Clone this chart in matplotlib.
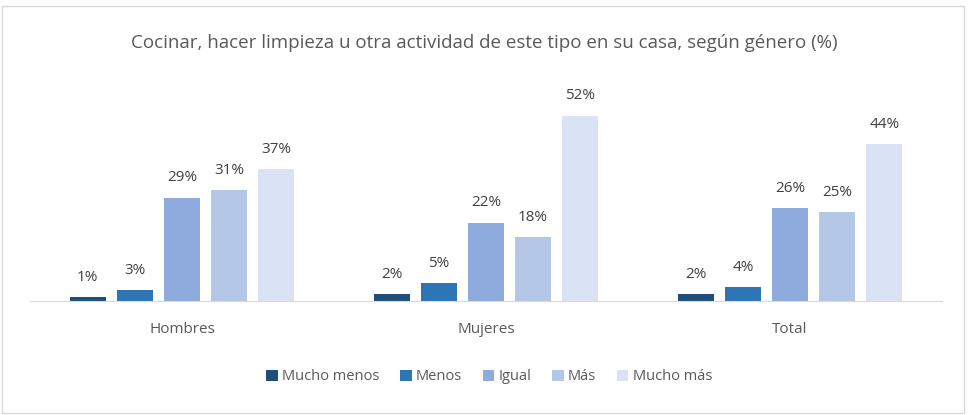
import matplotlib.pyplot as plt
import numpy as np
from matplotlib.patches import Rectangle

plt.rcParams['font.family'] = ['Open Sans', 'DejaVu Sans']

# datos
grupos = ['Hombres', 'Mujeres', 'Total']
series = ['Mucho menos', 'Menos', 'Igual', 'Más', 'Mucho más']
valores = [
    [1, 2, 2],
    [3, 5, 4],
    [29, 22, 26],
    [31, 18, 25],
    [37, 52, 44],
]
colores = ['#1f4e79', '#2e75b6', '#8faadc', '#b4c7e7', '#dae3f3']

fig = plt.figure(figsize=(9.68, 4.15), dpi=100)
ax = fig.add_axes([30/968, 1-301/415, 912/968, 214/415])

x = np.arange(len(grupos))
ancho = 0.118
paso = 0.155
for i, (s, v, c) in enumerate(zip(series, valores, colores)):
    pos = x + (i - 2) * paso
    barras = ax.bar(pos, v, ancho, color=c, label=s)
    for b, val in zip(barras, v):
        ax.text(b.get_x() + b.get_width()/2, val + 3.4, f'{val}%',
                ha='center', va='bottom', fontsize=11, color='#404040')

ax.set_xlim(-0.5, 2.5)
ax.set_ylim(0, 60)
ax.set_yticks([])
ax.set_xticks(x)
ax.set_xticklabels(grupos, fontsize=11, color='#595959')
ax.tick_params(axis='x', length=0, pad=15)
for lado in ['top', 'right', 'left']:
    ax.spines[lado].set_visible(False)
ax.spines['bottom'].set_color('#d9d9d9')

fig.text(0.5, 1-43/415, 'Cocinar, hacer limpieza u otra actividad de este tipo en su casa, según género (%)',
         ha='center', va='center', fontsize=13.5, color='#595959')

fig.legend(loc='center', bbox_to_anchor=(489/968, 1-377/415), ncol=5, frameon=False,
           fontsize=10.5, handlelength=0.8, handleheight=0.8, handletextpad=0.3,
           columnspacing=1.4, labelcolor='#595959')

fig.patches.append(Rectangle((2/968, 2/415), 962/968, 407/415, transform=fig.transFigure,
                             fill=False, edgecolor='#d9d9d9', linewidth=1))

fig.savefig('out.png', dpi=100)
